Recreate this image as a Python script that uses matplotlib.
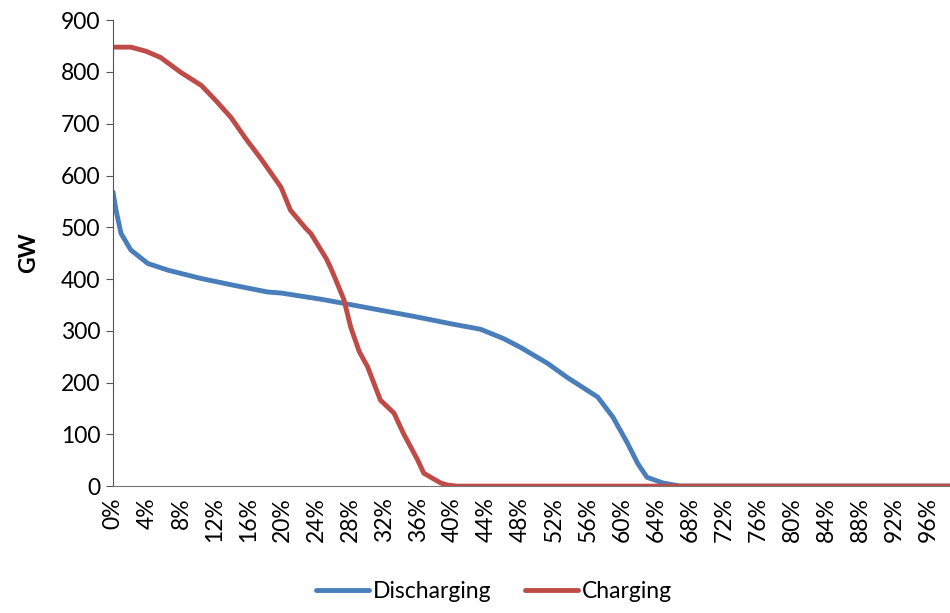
import matplotlib.pyplot as plt
import numpy as np

plt.rcParams['font.family'] = ['Lato', 'DejaVu Sans']

# Duration curve data (share of hours in %, GW)
dis_x = [0, 0.35, 0.94, 2.1, 4.1, 6.5, 10.4, 14.2, 18.2, 19.8, 24.5, 27.2, 35.4, 40.0, 43.3,
         46.0, 48.0, 51.2, 53.5, 57.1, 58.9, 60.6, 61.8, 62.9, 64.8, 66.8, 98.6]
dis_y = [568, 533, 488, 456, 430, 417, 401, 388, 375, 373, 361, 353, 328, 313, 303,
         285, 268, 237, 210, 172, 133, 83, 44, 17, 6, 0, 0]

chg_x = [0, 2.1, 3.9, 5.6, 8.0, 10.4, 12.1, 13.9, 15.6, 17.4, 19.8, 20.9, 22.7, 23.3, 25.1,
         25.6, 26.2, 27.2, 28.0, 29.0, 30.0, 31.5, 33.1, 34.2, 35.9, 36.6, 38.6, 39.4, 40.5, 98.6]
chg_y = [848, 848, 840, 828, 799, 774, 745, 712, 672, 633, 577, 533, 498, 488, 440,
         423, 400, 360, 307, 260, 230, 166, 141, 102, 50, 25, 6, 2, 0, 0]

xticks = list(range(0, 100, 4))
xtick_labels = [f'{t}%' for t in xticks]

fig = plt.figure(figsize=(9.5, 6.13), dpi=100)
ax = fig.add_axes([0.119, 0.207, 0.881, 0.76])

ax.plot(dis_x, dis_y, color='#4A7EBB', lw=3.5, label='Discharging', solid_capstyle='round')
ax.plot(chg_x, chg_y, color='#BE4B48', lw=3.5, label='Charging', solid_capstyle='round')

ax.set_xlim(0, 98.6)
ax.set_ylim(0, 900)
ax.set_yticks(range(0, 901, 100))
ax.set_xticks(xticks)
ax.set_xticklabels(xtick_labels, rotation=90)
ax.tick_params(axis='y', labelsize=16.5, length=5, color='#555555', pad=4)
ax.tick_params(axis='x', labelsize=16.5, length=0, pad=8)

for s in ['top', 'right']:
    ax.spines[s].set_visible(False)
ax.spines['left'].set_color('#555555')
ax.spines['bottom'].set_color('#777777')

ax.set_ylabel('GW', fontsize=16.5, fontweight='bold', labelpad=16)

fig.legend(loc='lower center', ncol=2, frameon=False, fontsize=16.5,
           handlelength=2.3, handletextpad=0.15, columnspacing=1.5,
           bbox_to_anchor=(0.52, -0.015))

fig.savefig('out.png', dpi=100)
